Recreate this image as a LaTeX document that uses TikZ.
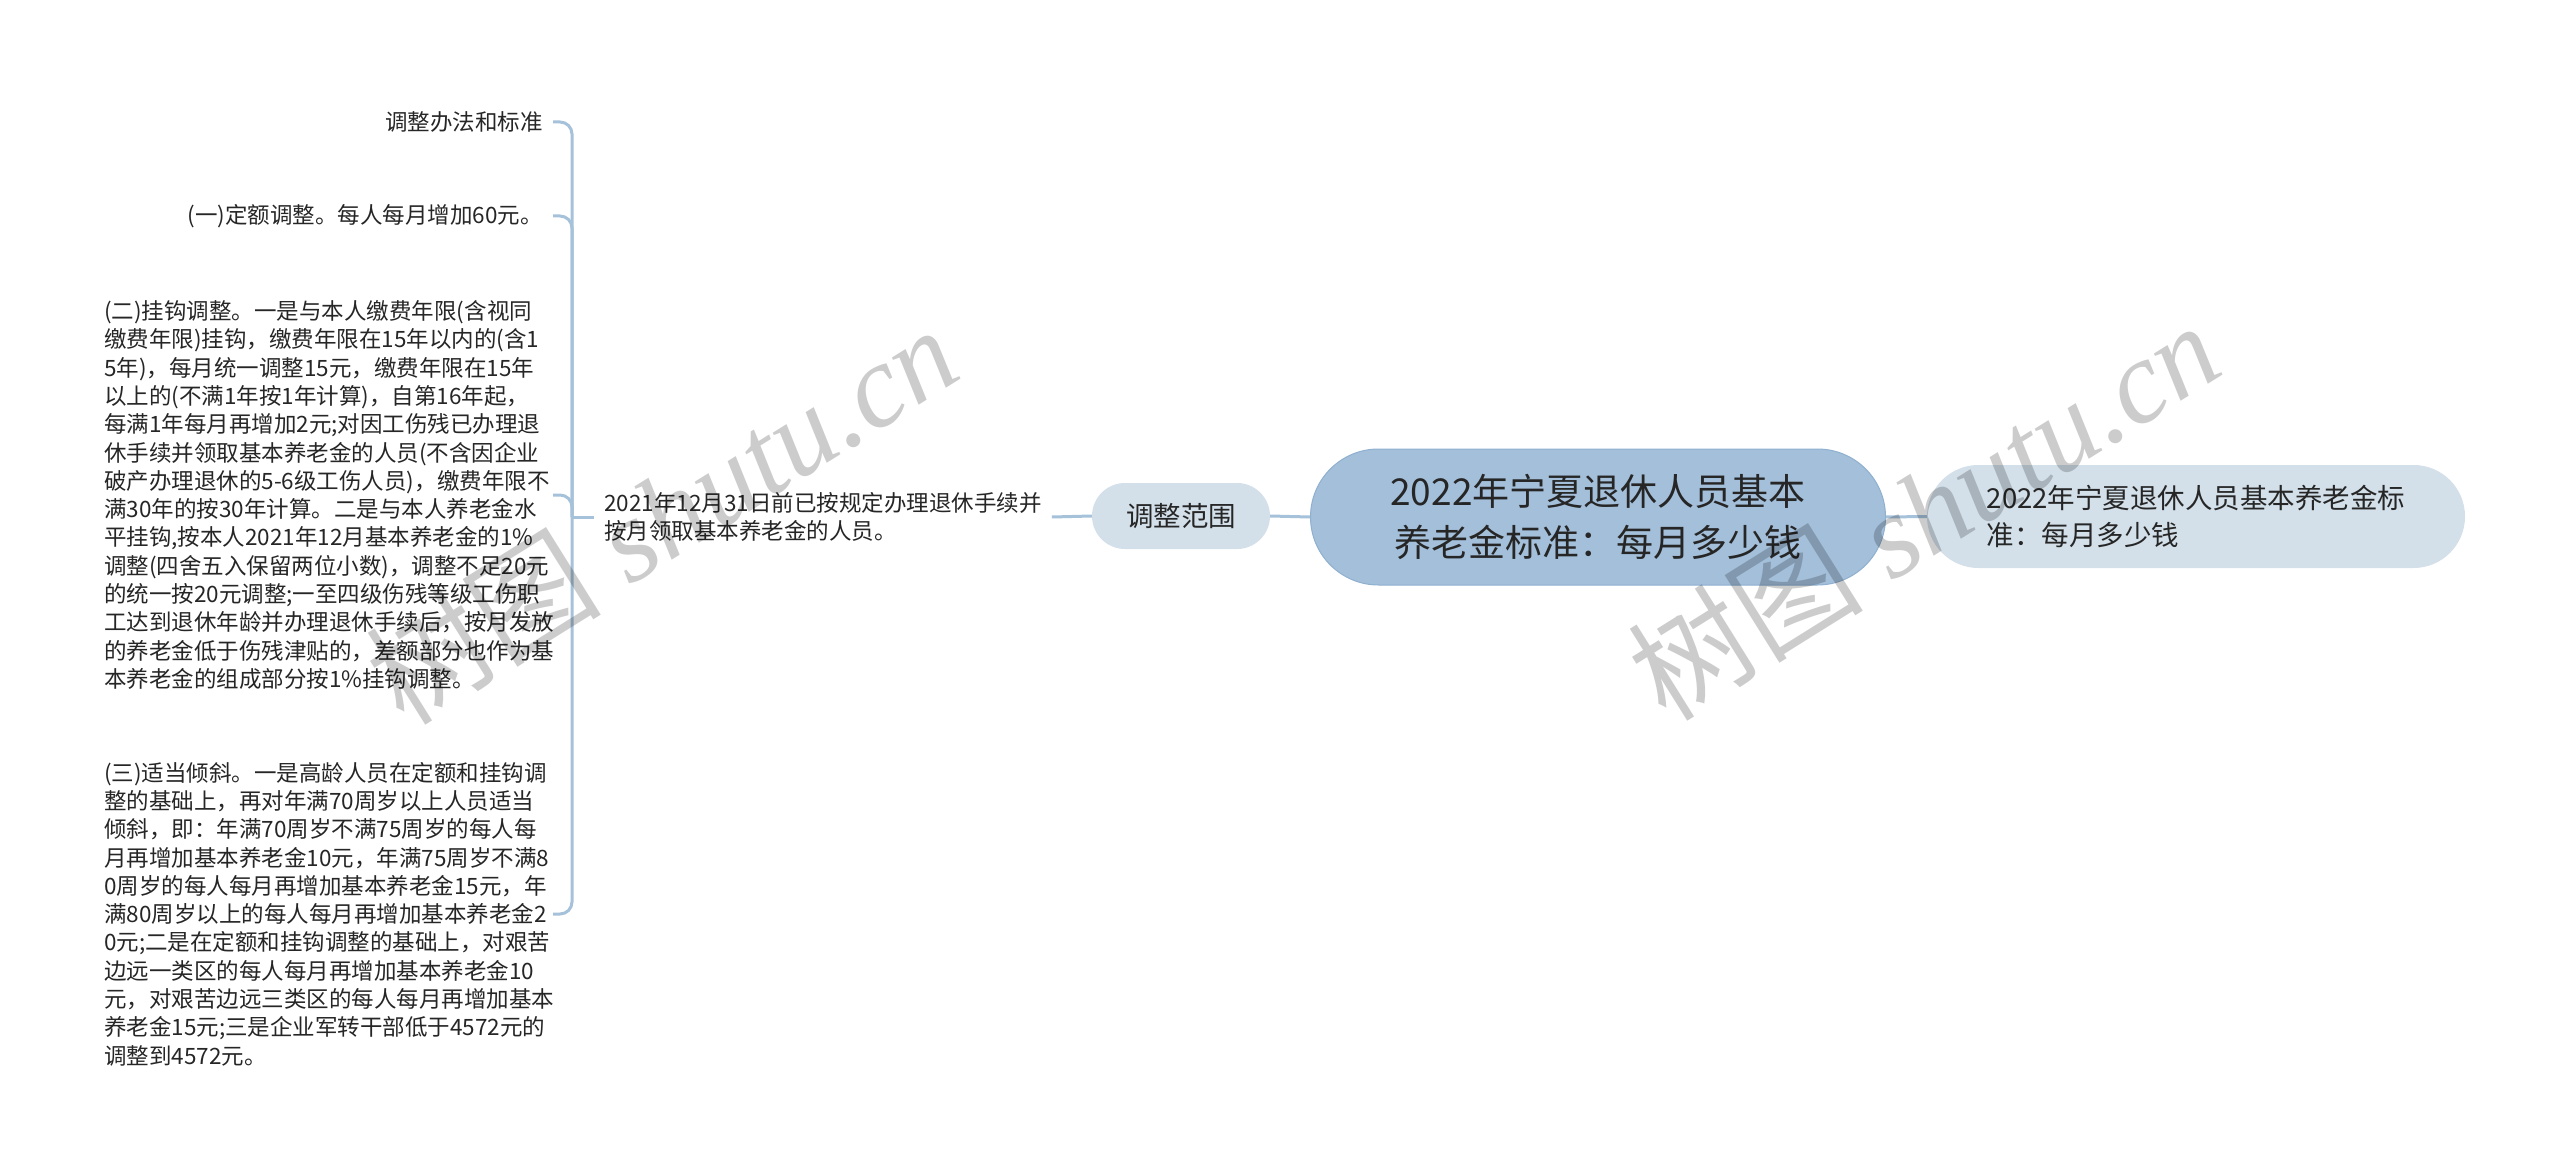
\documentclass[tikz,border=0pt]{standalone}
\usepackage{fontspec}
\setmainfont{Noto Sans CJK SC}
\newfontfamily\wmserif{Liberation Serif}
\newfontfamily\wmcjk{Noto Sans CJK SC}
\definecolor{rootblue}{HTML}{A3BFDA}
\definecolor{rootedge}{HTML}{8FB0CF}
\definecolor{paleblue}{HTML}{D3E0EA}
\definecolor{lineblue}{HTML}{A6C1DA}
\definecolor{textc}{HTML}{262626}
\begin{document}
\begin{tikzpicture}[x=1pt,y=-1pt,
  conn/.style={draw=lineblue, line width=3pt},
  rootbox/.style={fill=rootblue, draw=rootedge, line width=1pt, rounded corners=68pt,
    minimum width=575pt, minimum height=136pt, align=center, text=textc,
    font=\fontsize{37}{51}\selectfont},
  rightbox/.style={fill=paleblue, rounded corners=51.5pt, minimum width=538pt,
    minimum height=103pt, align=left, text=textc, font=\fontsize{27.5}{37.5}\selectfont},
  midbox/.style={fill=paleblue, rounded corners=33pt, minimum width=178pt,
    minimum height=66pt, align=center, text=textc, font=\fontsize{27.5}{34}\selectfont},
  leaf/.style={inner sep=0pt, align=left, text=textc, font=\fontsize{22.5}{28.3}\selectfont},
  wm/.style={text=black, text opacity=0.2, font=\fontsize{118}{130}\selectfont\wmserif\itshape}
]
\useasboundingbox (0,0) rectangle (2560,1174);
\fill[white] (0,0) rectangle (2560,1174);

\node[rootbox] (root) at (1598,517) {2022年宁夏退休人员基本\\养老金标准：每月多少钱};
\node[rightbox] (rt) at (2196,516.5) {2022年宁夏退休人员基本养老金标\\准：每月多少钱};
\node[midbox] (adj) at (1181,516) {调整范围};
\node[leaf, anchor=west, inner xsep=10pt] (scope) at (594,517)
  {2021年12月31日前已按规定办理退休手续并\\按月领取基本养老金的人员。};

\coordinate (hub) at (572,517);
\coordinate (stub) at (553,0);

\node[leaf, anchor=east] (m0) at (543,122) {调整办法和标准};
\node[leaf, anchor=east] (m1) at (543,216) {(一)定额调整。每人每月增加60元。};
\node[leaf, anchor=west] (m2) at (104,495) {(二)挂钩调整。一是与本人缴费年限(含视同\\
缴费年限)挂钩，缴费年限在15年以内的(含1\\
5年)，每月统一调整15元，缴费年限在15年\\
以上的(不满1年按1年计算)，自第16年起，\\
每满1年每月再增加2元;对因工伤残已办理退\\
休手续并领取基本养老金的人员(不含因企业\\
破产办理退休的5-6级工伤人员)，缴费年限不\\
满30年的按30年计算。二是与本人养老金水\\
平挂钩,按本人2021年12月基本养老金的1\%\\
调整(四舍五入保留两位小数)，调整不足20元\\
的统一按20元调整;一至四级伤残等级工伤职\\
工达到退休年龄并办理退休手续后，按月发放\\
的养老金低于伤残津贴的，差额部分也作为基\\
本养老金的组成部分按1\%挂钩调整。};
\node[leaf, anchor=west] (m3) at (104,914) {(三)适当倾斜。一是高龄人员在定额和挂钩调\\
整的基础上，再对年满70周岁以上人员适当\\
倾斜，即：年满70周岁不满75周岁的每人每\\
月再增加基本养老金10元，年满75周岁不满8\\
0周岁的每人每月再增加基本养老金15元，年\\
满80周岁以上的每人每月再增加基本养老金2\\
0元;二是在定额和挂钩调整的基础上，对艰苦\\
边远一类区的每人每月再增加基本养老金10\\
元，对艰苦边远三类区的每人每月再增加基本\\
养老金15元;三是企业军转干部低于4572元的\\
调整到4572元。};

\draw[conn] (root.east) -- (rt.west);
\draw[conn] (root.west) -- (adj.east);
\draw[conn] (adj.west) -- (scope.east);
\draw[conn] (scope.west) -- (hub);
\foreach \m in {m0,m1,m2,m3}
  \draw[conn, rounded corners=12pt] (hub) |- (\m.east -| stub);

\node[wm, rotate=32] (wm1) at (661,514) {{\wmcjk\upshape 树图} shutu.cn};
\node[wm, rotate=32] (wm2) at (1923,510) {{\wmcjk\upshape 树图} shutu.cn};
\end{tikzpicture}
\end{document}
